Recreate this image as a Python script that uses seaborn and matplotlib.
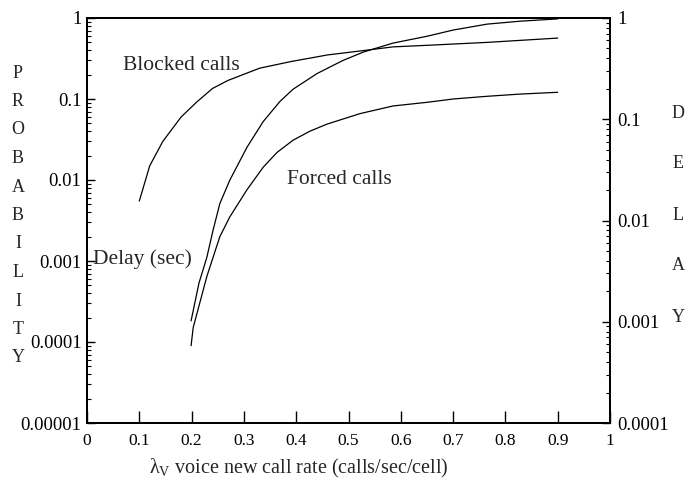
import matplotlib
matplotlib.use("Agg")
import matplotlib.pyplot as plt
import matplotlib.ticker as mticker
import numpy as np
import pandas as pd
import seaborn as sns

# Blocked-call probability vs. voice new call rate (left axis)
blocked_rate = [0.10, 0.12, 0.145, 0.18, 0.21, 0.24, 0.27, 0.33, 0.39, 0.46,
                0.52, 0.585, 0.65, 0.765, 0.90]
blocked_prob = [0.0055, 0.015, 0.030, 0.060, 0.092, 0.135, 0.17, 0.24, 0.29,
                0.35, 0.39, 0.44, 0.46, 0.50, 0.565]

# Forced-termination probability (left axis)
forced_rate = [0.199, 0.203, 0.229, 0.254, 0.273, 0.306, 0.337, 0.363, 0.394,
               0.426, 0.459, 0.522, 0.585, 0.65, 0.70, 0.765, 0.828, 0.90]
forced_prob = [0.00009, 0.00015, 0.00064, 0.0020, 0.0035, 0.0076, 0.0144,
               0.0218, 0.031, 0.040, 0.049, 0.066, 0.082, 0.091, 0.10, 0.108,
               0.115, 0.121]

# Mean delay in seconds (right axis)
delay_rate = [0.199, 0.214, 0.229, 0.241, 0.254, 0.273, 0.306, 0.337, 0.369,
              0.394, 0.44, 0.489, 0.528, 0.585, 0.65, 0.70, 0.765, 0.828, 0.90]
delay_sec = [0.00102, 0.0024, 0.0043, 0.0080, 0.0147, 0.025, 0.053, 0.095,
             0.150, 0.198, 0.283, 0.38, 0.46, 0.565, 0.66, 0.76, 0.87, 0.93,
             0.98]

x_ticks = [0, 0.1, 0.2, 0.3, 0.4, 0.5, 0.6, 0.7, 0.8, 0.9, 1]
left_ticks = [1e-5, 1e-4, 1e-3, 1e-2, 1e-1, 1]
right_ticks = [1e-4, 1e-3, 1e-2, 1e-1, 1]

sns.set_theme(style="ticks")
plt.rcParams["font.family"] = ["Liberation Serif", "DejaVu Serif"]
plt.rcParams["mathtext.fontset"] = "custom"
plt.rcParams["mathtext.rm"] = "Liberation Serif"

fig = plt.figure(figsize=(6.96, 4.88), dpi=100)
ax = fig.add_axes([87 / 696, 1 - 423 / 488, 523 / 696, 405 / 488])
ax2 = ax.twinx()

line_kw = dict(color="black", linewidth=0.9, sort=False, estimator=None)
sns.lineplot(data=pd.DataFrame({"x": blocked_rate, "y": blocked_prob}),
             x="x", y="y", ax=ax, **line_kw)
sns.lineplot(data=pd.DataFrame({"x": forced_rate, "y": forced_prob}),
             x="x", y="y", ax=ax, **line_kw)
sns.lineplot(data=pd.DataFrame({"x": delay_rate, "y": delay_sec}),
             x="x", y="y", ax=ax2, **line_kw)


def plain(v, _pos=None):
    return f"{v:.6f}".rstrip("0").rstrip(".")


ax.set_xlim(0, 1)
ax.set_yscale("log")
ax.set_ylim(1e-5, 1)
ax2.set_yscale("log")
ax2.set_ylim(1e-4, 1)

ax.set_xticks(x_ticks)
ax.xaxis.set_major_formatter(mticker.FuncFormatter(plain))
for a, ticks in ((ax, left_ticks), (ax2, right_ticks)):
    a.set_yticks(ticks)
    a.yaxis.set_major_formatter(mticker.FuncFormatter(plain))
    a.yaxis.set_minor_locator(mticker.LogLocator(base=10, subs=np.arange(2, 10)))
    a.yaxis.set_minor_formatter(mticker.NullFormatter())
    a.set_ylabel("")

for a in (ax, ax2):
    for sp in a.spines.values():
        sp.set_visible(True)
        sp.set_linewidth(1.4)
        sp.set_color("black")
    a.tick_params(which="major", direction="in", length=6, width=1.0,
                  colors="black", labelsize=13.5)
    a.tick_params(which="minor", direction="in", length=3, width=0.8,
                  colors="black")
ax.tick_params(axis="x", which="major", length=9, pad=7, labelsize=12.5)
ax.tick_params(axis="y", pad=4)
ax2.tick_params(axis="y", pad=5)

ax.set_xlabel("λ$_\\mathrm{V}$ voice new call rate (calls/sec/cell)",
              fontsize=14.5)
ax.xaxis.set_label_coords(0.405, -0.085)

# annotations for each curve
ax.text(0.069, 0.26, "Blocked calls", fontsize=15.5, va="center", ha="left")
ax.text(0.382, 0.0102, "Forced calls", fontsize=15.5, va="center", ha="left")
ax.text(0.011, 0.00104, "Delay (sec)", fontsize=15.5, va="center", ha="left")

# stacked axis titles
for i, ch in enumerate("PROBABILITY"):
    fig.text(18 / 696, 1 - (73 + i * 28.5) / 488, ch, fontsize=13,
             ha="center", va="center")
for i, ch in enumerate("DELAY"):
    fig.text(678 / 696, 1 - (113 + i * 51) / 488, ch, fontsize=13,
             ha="center", va="center")

fig.savefig("out.png", dpi=100)
